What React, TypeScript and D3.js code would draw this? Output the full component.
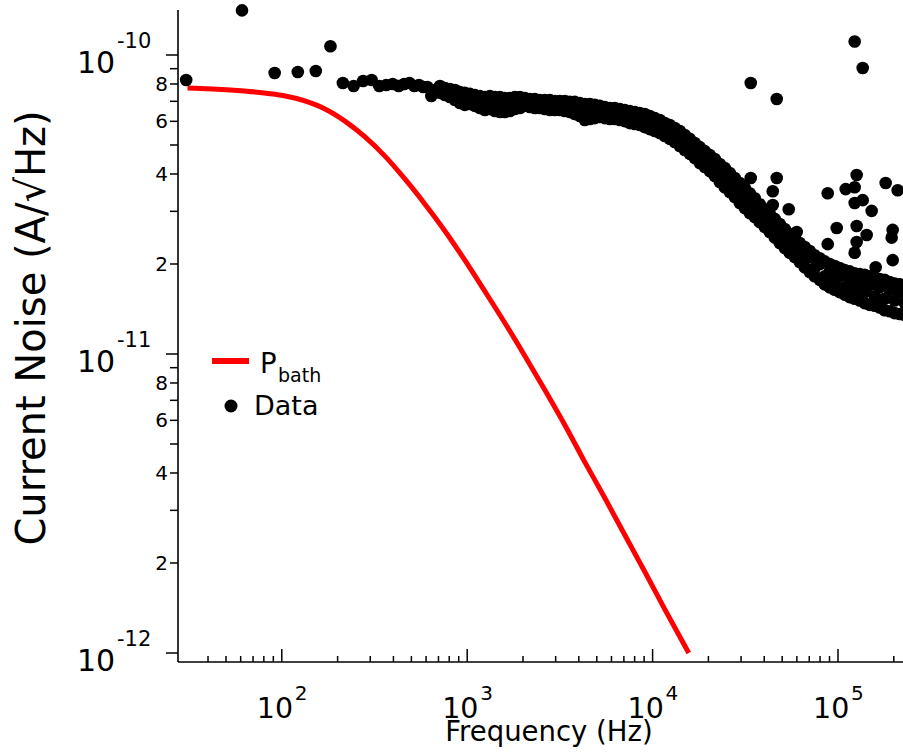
import React from "react";
import * as d3 from "d3";

const W = 903;
const H = 754;

// P_bath model curve (Hz, A/√Hz)
const bathFreq = [31, 52.6, 76.3, 101.5, 133, 171, 219, 281, 360, 461, 592, 758, 971, 1246, 1597, 2047, 2624, 3362, 4310, 5525, 7083, 9077, 11640, 15670];
const bathNoise = [7.76e-11, 7.64e-11, 7.49e-11, 7.32e-11, 7.02e-11, 6.6e-11, 6.01e-11, 5.32e-11, 4.59e-11, 3.85e-11, 3.17e-11, 2.58e-11, 2.06e-11, 1.62e-11, 1.27e-11, 9.85e-12, 7.58e-12, 5.79e-12, 4.35e-12, 3.3e-12, 2.48e-12, 1.87e-12, 1.4e-12, 1.0e-12];

// Data: low-frequency individual points
const lowFreq = [30.5, 61, 91.5, 122, 152.5, 183, 213.5, 244, 274.5, 305, 335.5, 366, 396.5, 427, 457.5, 488, 518.5, 549, 579.5, 610, 640.5, 671, 701.5];
const lowNoise = [8.25e-11, 1.41e-10, 8.71e-11, 8.77e-11, 8.84e-11, 1.07e-10, 8.06e-11, 7.88e-11, 8.19e-11, 8.25e-11, 7.88e-11, 7.94e-11, 8.0e-11, 7.88e-11, 8.0e-11, 8.06e-11, 7.88e-11, 7.94e-11, 7.82e-11, 7.82e-11, 7.29e-11, 7.64e-11, 7.58e-11];

// Data: dense band readings (upper, middle, lower readings at each frequency)
const bandFreq = [713, 759, 807, 859, 913, 971, 1034, 1100, 1171, 1246, 1326, 1411, 1501, 1597, 1699, 1808, 1924, 2047, 2178, 2317, 2466, 2624, 2792, 2971, 3160, 3362, 3578, 3807, 4051, 4310, 4586, 4880, 5193, 5525, 5879, 6255, 6657, 7083, 7537, 8019, 8531, 9077, 9661, 10280, 10940, 11640, 12380, 13170, 14020, 14910, 15870, 16880, 17970, 19120, 20340, 21640, 23030, 24500, 26080, 27750, 29520, 31410, 33420, 35560, 37840, 40260, 42840, 45580, 48500, 51600, 54910, 58420, 62170, 66150, 70380, 74880, 79690, 84790, 90230, 96000, 102100, 108600, 115600, 123000, 130900, 139300, 148200, 157700, 167800, 178500, 190000, 202200, 215100, 228900];
const bandHi = [7.88e-11, 7.76e-11, 7.7e-11, 7.64e-11, 7.52e-11, 7.47e-11, 7.41e-11, 7.35e-11, 7.29e-11, 7.24e-11, 7.29e-11, 7.24e-11, 7.24e-11, 7.18e-11, 7.18e-11, 7.24e-11, 7.24e-11, 7.18e-11, 7.13e-11, 7.13e-11, 7.07e-11, 7.07e-11, 7.07e-11, 7.02e-11, 7.02e-11, 7.02e-11, 6.97e-11, 6.97e-11, 6.91e-11, 6.86e-11, 6.86e-11, 6.81e-11, 6.76e-11, 6.7e-11, 6.65e-11, 6.65e-11, 6.6e-11, 6.55e-11, 6.5e-11, 6.45e-11, 6.4e-11, 6.35e-11, 6.25e-11, 6.15e-11, 6.06e-11, 5.92e-11, 5.83e-11, 5.7e-11, 5.57e-11, 5.4e-11, 5.24e-11, 5.08e-11, 4.92e-11, 4.77e-11, 4.63e-11, 4.49e-11, 4.32e-11, 4.19e-11, 4.03e-11, 3.88e-11, 3.73e-11, 3.59e-11, 3.45e-11, 3.32e-11, 3.17e-11, 3.05e-11, 2.94e-11, 2.83e-11, 2.72e-11, 2.62e-11, 2.52e-11, 2.43e-11, 2.35e-11, 2.28e-11, 2.21e-11, 2.14e-11, 2.09e-11, 2.04e-11, 2.0e-11, 1.97e-11, 1.94e-11, 1.91e-11, 1.89e-11, 1.86e-11, 1.85e-11, 1.84e-11, 1.82e-11, 1.79e-11, 1.78e-11, 1.77e-11, 1.74e-11, 1.72e-11, 1.71e-11, 1.7e-11];
const bandMid = [7.7e-11, 7.52e-11, 7.52e-11, 7.29e-11, 7.24e-11, 7.07e-11, 7.18e-11, 7.02e-11, 6.97e-11, 6.86e-11, 6.97e-11, 6.81e-11, 6.86e-11, 6.76e-11, 6.91e-11, 6.86e-11, 6.97e-11, 6.91e-11, 6.91e-11, 6.86e-11, 6.86e-11, 6.81e-11, 6.81e-11, 6.76e-11, 6.81e-11, 6.7e-11, 6.7e-11, 6.6e-11, 6.55e-11, 6.45e-11, 6.5e-11, 6.45e-11, 6.5e-11, 6.4e-11, 6.4e-11, 6.35e-11, 6.3e-11, 6.25e-11, 6.2e-11, 6.15e-11, 6.11e-11, 6.01e-11, 5.92e-11, 5.88e-11, 5.74e-11, 5.61e-11, 5.53e-11, 5.4e-11, 5.24e-11, 5.12e-11, 4.92e-11, 4.81e-11, 4.63e-11, 4.49e-11, 4.35e-11, 4.19e-11, 4.03e-11, 3.91e-11, 3.73e-11, 3.61e-11, 3.45e-11, 3.32e-11, 3.2e-11, 3.1e-11, 2.96e-11, 2.85e-11, 2.74e-11, 2.64e-11, 2.54e-11, 2.43e-11, 2.35e-11, 2.26e-11, 2.25e-11, 2.08e-11, 2.11e-11, 1.94e-11, 2.0e-11, 1.82e-11, 1.89e-11, 1.75e-11, 1.82e-11, 1.67e-11, 1.78e-11, 1.64e-11, 1.72e-11, 1.61e-11, 1.7e-11, 1.56e-11, 1.67e-11, 1.53e-11, 1.64e-11, 1.51e-11, 1.61e-11, 1.48e-11];
const bandLo = [7.47e-11, 7.35e-11, 7.24e-11, 7.07e-11, 6.91e-11, 6.81e-11, 6.86e-11, 6.76e-11, 6.65e-11, 6.55e-11, 6.6e-11, 6.5e-11, 6.45e-11, 6.45e-11, 6.5e-11, 6.6e-11, 6.65e-11, 6.76e-11, 6.7e-11, 6.65e-11, 6.65e-11, 6.6e-11, 6.55e-11, 6.55e-11, 6.55e-11, 6.5e-11, 6.45e-11, 6.35e-11, 6.25e-11, 6.06e-11, 6.11e-11, 6.15e-11, 6.2e-11, 6.15e-11, 6.11e-11, 6.11e-11, 6.06e-11, 6.01e-11, 5.92e-11, 5.88e-11, 5.83e-11, 5.74e-11, 5.65e-11, 5.57e-11, 5.48e-11, 5.36e-11, 5.24e-11, 5.12e-11, 4.96e-11, 4.81e-11, 4.67e-11, 4.52e-11, 4.35e-11, 4.22e-11, 4.09e-11, 3.94e-11, 3.76e-11, 3.61e-11, 3.48e-11, 3.35e-11, 3.2e-11, 3.08e-11, 2.96e-11, 2.87e-11, 2.76e-11, 2.66e-11, 2.56e-11, 2.45e-11, 2.35e-11, 2.26e-11, 2.18e-11, 2.11e-11, 2.03e-11, 1.95e-11, 1.88e-11, 1.82e-11, 1.77e-11, 1.71e-11, 1.67e-11, 1.64e-11, 1.61e-11, 1.58e-11, 1.55e-11, 1.53e-11, 1.51e-11, 1.48e-11, 1.46e-11, 1.45e-11, 1.43e-11, 1.4e-11, 1.39e-11, 1.37e-11, 1.36e-11, 1.35e-11];

// Data: scattered outliers
const outFreq = [33840, 46720, 123000, 135900, 33840, 46720, 44470, 44470, 54230, 59880, 88010, 109990, 126070, 123000, 135900, 123000, 151900, 98400, 88010, 126070, 142760, 126070, 123000, 180770, 209850, 197200, 194750, 197200, 159660];
const outNoise = [8.06e-11, 7.13e-11, 1.11e-10, 9.05e-11, 3.88e-11, 3.88e-11, 3.5e-11, 3.15e-11, 3.05e-11, 2.56e-11, 3.45e-11, 3.56e-11, 3.97e-11, 3.61e-11, 3.27e-11, 3.2e-11, 3.01e-11, 2.64e-11, 2.33e-11, 2.68e-11, 2.5e-11, 2.37e-11, 2.18e-11, 3.73e-11, 3.53e-11, 2.6e-11, 2.45e-11, 2.06e-11, 1.95e-11];

// Axis tick labels
const xMajorTicks = [1e2, 1e3, 1e4, 1e5];
const xMajorExponents = ["2", "3", "4", "5"];
const yMajorTicks = [1e-10, 1e-11, 1e-12];
const yMajorExponents = ["-10", "-11", "-12"];
const yMinorLabelDigits = [2, 4, 6, 8];

const FONT = "'DejaVu Sans', 'Open Sans', sans-serif";

export default function App() {
  const x = d3.scaleLog().domain([100, 100000]).range([281.8, 838]);
  const y = d3.scaleLog().domain([1e-10, 1e-12]).range([55, 653]);
  const axisLeft = 178;
  const axisBottom = 662;
  const yTop = 10;
  const xRight = W;

  const bathPts: [number, number][] = bathFreq.map((f, i) => [f, bathNoise[i]]);
  const line = d3
    .line<[number, number]>()
    .x((d) => x(d[0]))
    .y((d) => y(d[1]))
    .curve(d3.curveMonotoneX);

  const pts: [number, number][] = [];
  lowFreq.forEach((f, i) => pts.push([f, lowNoise[i]]));
  bandFreq.forEach((f, i) => {
    pts.push([f, bandHi[i]]);
    pts.push([f, bandMid[i]]);
    pts.push([f, bandLo[i]]);
  });
  outFreq.forEach((f, i) => pts.push([f, outNoise[i]]));

  const xMinor: number[] = [];
  [10, 100, 1000, 10000, 100000].forEach((d) => {
    for (let m = 2; m <= 9; m++) {
      const v = d * m;
      const px = x(v);
      if (px > 195 && px < xRight) xMinor.push(v);
    }
  });
  const yMinor: number[] = [];
  [1e-12, 1e-11, 1e-10].forEach((d) => {
    for (let m = 2; m <= 9; m++) {
      const v = d * m;
      if (y(v) >= yTop) yMinor.push(v);
    }
  });
  const yMinorLabeled: { v: number; t: string }[] = [];
  [1e-12, 1e-11].forEach((d) => {
    yMinorLabelDigits.forEach((m) => yMinorLabeled.push({ v: d * m, t: String(m) }));
  });

  return (
    <svg
      width={W}
      height={H}
      style={{ position: "absolute", left: 0, top: 0, display: "block", background: "#fff" }}
      fontFamily={FONT}
    >
      <rect x={0} y={0} width={W} height={H} fill="#fff" />
      <path d={line(bathPts) || ""} fill="none" stroke="#ff0000" strokeWidth={5} />
      {pts.map((p, i) => (
        <circle key={i} cx={x(p[0])} cy={y(p[1])} r={6.3} fill="#000" />
      ))}

      <line x1={axisLeft} x2={axisLeft} y1={yTop} y2={axisBottom} stroke="#000" strokeWidth={1.6} />
      {yMajorTicks.map((v, i) => (
        <g key={"ym" + i}>
          <line x1={axisLeft - 12} x2={axisLeft} y1={y(v)} y2={y(v)} stroke="#000" strokeWidth={1.5} />
          <text x={77} y={y(v) + 18} fontSize={30} fill="#000">10</text>
          <text x={117} y={y(v) - 7} fontSize={21} fill="#000">{yMajorExponents[i]}</text>
        </g>
      ))}
      {yMinor.map((v, i) => (
        <line key={"yn" + i} x1={axisLeft - 8} x2={axisLeft} y1={y(v)} y2={y(v)} stroke="#000" strokeWidth={1.5} />
      ))}
      {yMinorLabeled.map((d, i) => (
        <text key={"yl" + i} x={168} y={y(d.v) + 7} fontSize={20} textAnchor="end" fill="#000">
          {d.t}
        </text>
      ))}

      <line x1={axisLeft} x2={xRight} y1={axisBottom} y2={axisBottom} stroke="#000" strokeWidth={1.6} />
      {xMajorTicks.map((v, i) => (
        <g key={"xm" + i}>
          <line x1={x(v)} x2={x(v)} y1={axisBottom} y2={axisBottom - 13} stroke="#000" strokeWidth={1.5} />
          <text x={x(v) - 25} y={718} fontSize={28.5} fill="#000">10</text>
          <text x={x(v) + 13} y={700} fontSize={20} fill="#000">{xMajorExponents[i]}</text>
        </g>
      ))}
      {xMinor.map((v, i) => (
        <line key={"xn" + i} x1={x(v)} x2={x(v)} y1={axisBottom} y2={axisBottom - 6} stroke="#000" strokeWidth={1.5} />
      ))}

      <text x={549} y={741} fontSize={27.5} textAnchor="middle" fill="#000">Frequency (Hz)</text>
      <text transform="translate(45,328) rotate(-90)" fontSize={40} textAnchor="middle" fill="#000">
        Current Noise (A/√Hz)
      </text>

      <line x1={212} x2={249} y1={361} y2={361} stroke="#ff0000" strokeWidth={6} />
      <text x={260} y={373} fontSize={27.5} fill="#000">P</text>
      <text x={278} y={382} fontSize={19} fill="#000">bath</text>
      <circle cx={231} cy={406} r={6.5} fill="#000" />
      <text x={254} y={415} fontSize={27} fill="#000">Data</text>
    </svg>
  );
}
